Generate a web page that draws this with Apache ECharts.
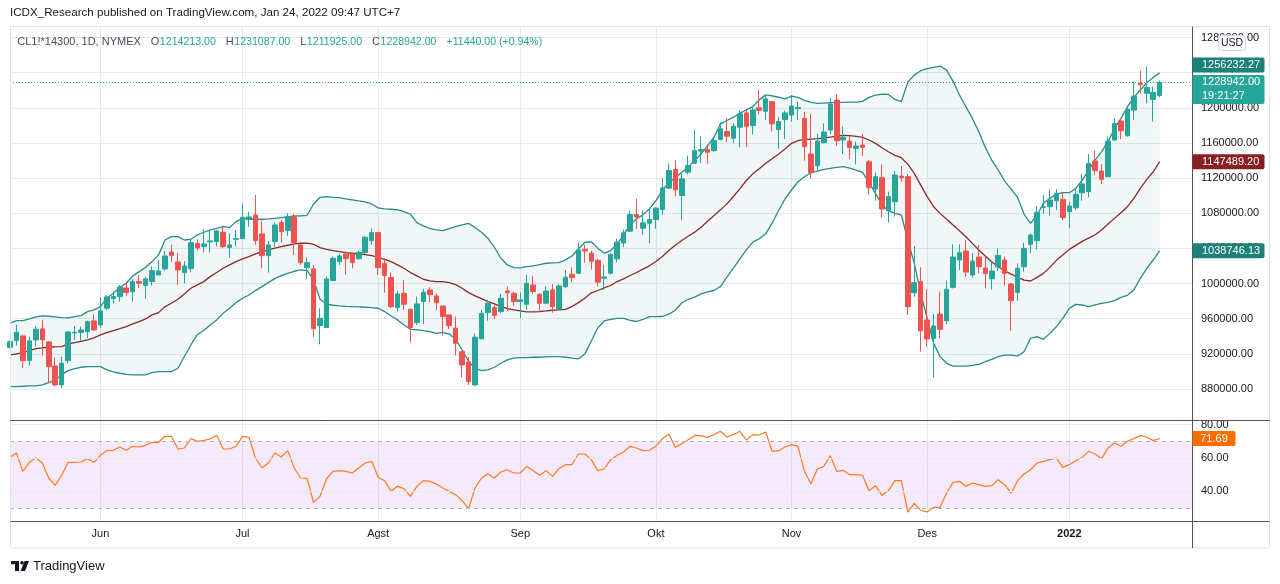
<!DOCTYPE html>
<html><head><meta charset="utf-8">
<script src="https://cdn.jsdelivr.net/npm/echarts@6/dist/echarts.min.js"></script>
<style>html,body{margin:0;padding:0;background:#fff;}#c{width:1280px;height:584px;}</style>
</head><body><div id="c"></div>
<script>
// ---------- data (prices in thousands) ----------
const titleText = 'ICDX_Research published on TradingView.com, Jan 24, 2022 09:47 UTC+7';
const symbolText = 'CL1!*14300, 1D, NYMEX';
const startDate = '2021-05-11';
const holidays = ['2021-05-31','2021-07-05','2021-09-06','2021-11-25','2021-12-24','2022-01-17'];
const blankBars = 5;
const monthNames = ['Jan','Feb','Mar','Apr','Mei','Jun','Jul','Agst','Sep','Okt','Nov','Des'];
const priceInterval = 40000;
const rsiLevels = [30, 70];
const rsiGridLevels = [40, 60, 80];
const countdown = '19:21:27';
const bbLabelValues = [1256232.27, 1147489.20, 1038746.13]; // upper, basis, lower

const openK = [927.5,935.1,940.4,912.3,935.8,948.4,933.6,906.2,884.6,912.3,
943.8,944.2,945.3,957.5,952.9,971.9,982.9,985.2,995,990.8,
1002.2,997.7,1002.2,1009.8,1016.6,1036,1024.6,1012.5,1017,1045.5,
1042.1,1047.4,1047.8,1058.4,1040.9,1050.4,1051.2,1073.2,1078.1,1056.5,
1031.8,1047.8,1069.4,1060.3,1076.2,1044,1018.2,1016.6,952.1,949.9,
1003.4,1025,1033.7,1033.7,1028.4,1035.2,1048.9,1058,1023.1,1006.8,
972.6,988.9,970.7,955.6,979.5,992.7,985.9,974.5,964.3,949.1,
922.5,910.8,884.6,937,966.9,972.6,968.1,991.6,988.9,979.5,
976.4,998.4,987.8,977.6,992.7,971.1,996.5,1010.6,1011.7,1039,
1034.6,1026.2,1006.1,1011.8,1028.1,1046.3,1059.6,1078.6,1063,1068.7,
1072.9,1084.3,1108.6,1129.8,1100.2,1126.8,1137,1150.7,1152.6,1151.4,
1164,1173.1,1165.5,1178,1194.3,1179.9,1200,1196.2,1207.2,1175.3,
1186.7,1191.8,1199,1188,1147.4,1134.1,1160.3,1174.7,1208.9,1163.4,
1162.2,1153.9,1157.7,1138.7,1107.6,1120.5,1082.9,1093.2,1122.4,1121.6,
989.6,1002.1,958.5,937.6,965.3,957.7,995.7,1026.8,1037,1009.7,
1030.2,1017.7,1005.5,1019.2,1026.8,999.5,990,1019.2,1044.6,1048.8,
1086.7,1087.5,1094.3,1095.8,1081.8,1086.3,1103.4,1104.6,1139.5,1128.1,
1121.6,1163.4,1185,1168.3,1197.5,1227.9,1216.5,1209.6,1214.213];

const closeK = [933.9,944.6,912.3,934.7,948,935.8,905.5,884.6,909.3,944.9,
944.6,947.2,956.7,947.2,968.8,984.8,985.2,996.2,989.7,1002.2,
1000.3,1005.3,1014.7,1014.4,1031.4,1031.8,1015.5,1020,1046.6,1040.5,
1045.1,1048.5,1059.9,1042.1,1044,1051.2,1075.4,1075.8,1048.9,1031.8,
1044,1066.7,1059.1,1076.2,1046.6,1023.8,1023.8,948.7,960.5,1005.3,
1028.8,1031.4,1028.4,1023.8,1035.6,1052.7,1058,1018.2,1009.1,973.8,
988.2,976.4,949.9,976.8,990.1,987.4,978.3,962.4,952.1,932,
907.4,888.4,938.9,966.2,977.6,963.5,983.3,989.7,979.5,981.4,
1000.3,990.8,977.6,991.6,973.8,997.3,1007.2,1006.8,1038.3,1037.1,
1025.5,1001.6,1007.6,1033.1,1047.1,1057.7,1078.6,1075.6,1069.1,1072.9,
1085.8,1108.9,1128.7,1106.7,1119.2,1134.4,1151.4,1152.6,1149.5,1162.8,
1176.1,1167.8,1179.1,1193.2,1179.1,1197.7,1197.3,1210.2,1181.8,1184.4,
1194.3,1202.1,1200.5,1155.8,1126.2,1162.2,1172.5,1204.3,1162.6,1166.4,
1155,1156.5,1155,1109.1,1121.6,1084.8,1098.9,1123.5,1120.5,973.7,
1001,946.3,936.9,951.7,947.9,993.4,1030.2,1035.1,1013.1,1025.6,
1019.2,1011.2,1014.3,1032.1,1011.6,980.5,1017.3,1040.1,1055.2,1081,
1087.5,1095.1,1102.7,1075.3,1088.2,1101.5,1113.3,1136.8,1128.5,1118.6,
1162.2,1182.3,1174,1198.3,1213.4,1226.3,1223.3,1217.502,1228.942];

const lowK = [926,929.4,903.6,906.6,928.2,918,886.5,882.7,880.8,909.3,
935.8,935.1,937.7,946.1,949.9,970,977.6,979.5,986.3,979.5,
994.6,982.5,997.7,1009.8,1014.4,1025,998.4,1000.3,1012.8,1037.5,
1035.2,1035.2,1042.1,1040.2,1029.5,1042.1,1050.4,1064.8,1044,1017.4,
1012.5,1042.1,1046.6,1054.2,1032.6,1021.2,1004.9,938.9,930.9,949.9,
1003.4,1021.2,1009.8,1017.4,1026.9,1033.7,1044,1009.8,989.7,971.9,
968.1,970,932.8,952.9,954,978.7,970,940.8,948.3,918,
893.3,884.6,883.5,937,957.8,959.4,966.2,968.8,974.9,960.5,
970,988.2,968.8,976.8,966.9,970,994.6,1001.5,1010.9,1023.8,
1016,996.6,992.8,1010.3,1024.3,1041.4,1058.5,1062.3,1055.4,1046,
1062.3,1078.2,1107.8,1099.1,1072.5,1124.1,1137,1137,1136.3,1149.5,
1162.8,1160.9,1159.8,1155.2,1155.2,1169.6,1192.4,1186.3,1173.1,1153.3,
1164.7,1184.2,1186.1,1139.8,1119.7,1129.2,1159.6,1170.2,1156.9,1147.4,
1141.7,1135.7,1145.2,1100.8,1094.3,1075.3,1069.3,1076.1,1115.9,964.2,
985,922.4,928.1,893.2,937.6,953.6,994.5,1015.4,1007.8,1006.7,
1011.6,994.5,993.4,1014.6,997.5,946.3,980.5,1013.5,1034.4,1038.9,
1079.9,1077.2,1083.7,1072.3,1062.8,1083.7,1094.3,1098.1,1123.5,1113.3,
1121.6,1162.2,1164.5,1167.2,1186.1,1216.5,1205.1,1184.2,1211.925];

const highK = [935,952.9,941.5,939.6,951,958.6,934.3,916.1,916.9,946.1,
951.8,951,957.8,965,984.4,986.7,990.8,998.4,1002.2,1004.9,
1009.8,1007.9,1019.3,1026.9,1037.1,1044,1035.2,1025.7,1049.6,1050.4,
1061.8,1061,1061,1065.6,1057.2,1061,1090.6,1081.9,1100.9,1071.7,
1048.5,1069.4,1072.4,1080,1079.2,1044,1029.9,1021.2,971.9,1007.9,
1030.7,1033.7,1036.4,1034.5,1037.5,1054.2,1062.9,1058,1028.8,1012.8,
991.6,1004.1,970.7,985.2,993.9,995.8,988.9,974.5,964.3,962.4,
923.3,916.9,943.4,970,981.4,976.4,988.2,996.5,990.8,989.7,
1009.8,1008.7,988.9,996.5,999.2,999.2,1015.5,1018.5,1046.6,1044,
1037.6,1028.1,1021.3,1034.6,1050.9,1061.5,1083.1,1096.4,1083.1,1086.2,
1086.9,1120.3,1137,1140.8,1126.8,1145.7,1175,1167.4,1158.3,1166.6,
1183.7,1188.2,1182.5,1197,1198.9,1200.8,1220.9,1214,1207.2,1189.4,
1197,1214.6,1207,1195.6,1193,1170.2,1182.3,1211.5,1215.7,1178.5,
1167.9,1161.5,1170.2,1140.6,1126.2,1135.7,1104.6,1128.1,1133.8,1124.7,
1042.7,1018.4,993.4,965.3,990.7,1003.3,1044.6,1044.6,1049.5,1035.1,
1043.8,1030.6,1024.9,1040.1,1030.6,1001,1023,1046.5,1057.1,1088.2,
1100.8,1107.2,1107.6,1103.4,1093.2,1108.3,1124.7,1147.4,1151.2,1136,
1167.2,1188,1186.9,1200.5,1230.1,1242.3,1246.8,1224.1,1231.087];

const bbUpperK = [954.8,957.8,957.8,959.7,962,963.1,962.8,962,961.2,960.9,
962.4,963.5,968.1,970,973.8,983.3,988.9,995.8,1000.3,1008.7,
1013.6,1018.5,1025,1032.6,1049.6,1053.4,1053.4,1049.6,1050.4,1055.3,
1058.4,1061,1062.9,1064.8,1063.7,1070.5,1074.3,1073.2,1073.2,1073.2,
1073.6,1074.3,1075.1,1075.8,1077,1077,1077.7,1090.6,1098.2,1099,
1098.2,1097.8,1096.3,1095.2,1094,1092.9,1090.6,1086.1,1084.9,1084.6,
1083.8,1081.9,1078.9,1069.4,1065.6,1062.9,1061,1060.3,1062.5,1064.8,
1066.7,1068.6,1063.7,1058.4,1051.5,1041.3,1028.8,1021.2,1018.2,1017.8,
1019.3,1020.1,1021.6,1023.1,1023.5,1023.8,1026.9,1031.4,1039.4,1047,
1047.5,1040.3,1034.6,1037.6,1044.8,1055.4,1066.8,1073.7,1078.2,1085,
1094.5,1105.9,1115.4,1120.3,1126.8,1132.5,1140.1,1147.6,1157.1,1166.6,
1181.8,1185.6,1189.4,1193.9,1197.7,1201.5,1209.1,1214.8,1213.7,1212.1,
1210.2,1213.4,1211.9,1208.5,1206.2,1205.1,1205.5,1205.9,1206.2,1206.2,
1206.6,1206.6,1207.4,1211.9,1214.6,1215.7,1215.3,1209.6,1207,1229.4,
1237.3,1242.3,1244.6,1246.1,1247.6,1243,1230.5,1214.6,1201.3,1188,
1172.8,1155,1140.6,1129.2,1116.7,1107.6,1098.1,1079.1,1068.5,1078,
1091.3,1097,1101.9,1103.4,1103.4,1108.3,1117.8,1129.2,1140.6,1150.1,
1161.5,1176.6,1188,1201.3,1211.9,1220.3,1228.6,1234.7,1240];

const bbBasisK = [918.8,919.9,921.4,923.7,926,926.7,927.5,927.9,928.2,931.3,
932.8,934.3,935.8,938.1,941.5,944.2,946.5,948.7,951,954,
956.7,959.7,964.3,966.9,973.8,977.6,982.1,988.2,994.6,998.5,
1002.2,1007.9,1012.5,1017.4,1021.2,1025,1028,1030.7,1033.7,1036.4,
1038.3,1040.2,1042.1,1043.6,1045.1,1045.9,1045.9,1044.7,1040.9,1039,
1037.5,1036.4,1035.2,1034.5,1033.7,1033,1031.8,1029.9,1027.6,1025,
1021.2,1017.4,1012.5,1008.7,1004.9,1003,1002.2,1002.2,1001.1,998.8,
994.6,989.7,985.9,982.9,979.5,976.8,973.8,971.5,970,968.8,
967.7,967.7,968.1,968.8,969.6,970,970.7,973.8,978.3,983.3,
989.4,992.1,995.1,997.8,1002.3,1005.4,1009.2,1012.6,1016.4,1020.2,
1025.1,1030.8,1037.6,1043.7,1049,1053.9,1058.5,1064.2,1071,1077.5,
1083.9,1090.7,1099.1,1107.8,1117.3,1124.9,1130.6,1137,1142,1147.6,
1153.3,1159.6,1162.6,1164.1,1164.5,1164.9,1165.6,1166.8,1167.9,1168.7,
1168.3,1167.5,1166.4,1163.4,1159.6,1154.6,1150.1,1145.9,1143.3,1136,
1125.4,1112.1,1098.9,1087.5,1079.9,1073.1,1066.6,1060.2,1053.3,1045.7,
1038.2,1031.3,1024.5,1019.2,1014.6,1010.8,1007,1004,1002.9,1007,
1011.6,1018.4,1026.4,1032.5,1038.9,1043.5,1048,1051.8,1055.6,1060.9,
1067.8,1074.2,1080.7,1087.5,1097,1108.3,1118.6,1127.3,1138.7];

const bbLowerK = [882.7,882.7,883.1,883.5,883.5,884.6,887.3,890.3,896,900.9,
903.2,904.7,905.5,905.5,905.5,901.7,899.4,897.9,896.7,896,
896,896,898.6,899.8,899.8,899.8,903.6,916.9,930.1,941.8,
946.5,952.9,958.6,966.2,971.9,978.3,983.3,987,992,996.5,
1001.1,1005.6,1009.1,1011.7,1014,1015.5,1014.7,1004.1,982.1,976.8,
975.3,974.5,974.1,973.8,973.4,973,972.6,971.9,968.1,963.1,
958.6,952.9,947.9,947.2,946.5,945.3,943.4,944.2,942.7,936.6,
924.4,911.2,903.6,900.9,901.7,904.7,909.3,913.1,915,915.7,
915.7,916.1,916.1,916.5,916.9,916.9,916.1,915,914.2,919.9,
934.6,949.4,957.4,959.1,960.3,960.3,958,956.8,959.1,962.3,
962.3,962.5,965.1,969.6,977.9,982.1,984.5,988.3,990.6,992.1,
996.6,1007.3,1017.5,1028.1,1038.4,1047.1,1050.9,1056.6,1068.7,1083.1,
1096.4,1106.5,1115.9,1121.6,1126.2,1128.1,1130,1131.1,1132.3,1133,
1131.5,1129.2,1126.6,1114.8,1102.7,1089.4,1083,1079.9,1078,1049.5,
1023,988.8,960.4,931.9,916.8,909.2,906.1,906.1,906.1,906.9,
908,911,913.7,916.7,918.6,918.6,917.5,922.4,937.6,939.5,
936.5,943.3,950.9,960.4,971.8,976.3,975.6,973.7,975.6,977.5,
978.6,980.5,984.3,986.6,992.6,1005.9,1017.3,1026.8,1037.4];

const rsi = [60.4,63,52,57.4,60,57,48,43.6,49.6,57.4,
57.4,57.6,59.6,57.4,61.6,64.4,64.6,66.6,64.6,67,
66.6,67.6,69.4,69.4,73,73,65.4,66,71.6,70,
70.6,71.4,73.6,65.4,65.4,67,73,72.4,60,54,
57,63,60.6,64.4,54,48,47.8,33.4,37,47.4,
52,52.4,52,51,54,57,58,48.4,46.4,40,
43,41.6,37,43,46.4,46,44.4,42,40,38,
34.4,29.6,42,48,50.4,48,51.6,53,51,51,
55,52.4,49.6,52.4,49,53.6,56,56,62.4,62.4,
59,52.4,53.4,59,61.6,63.6,67,66,64.4,64.6,
67,71.6,74.4,66.4,68.6,71,73.4,73.4,72.4,74,
76,72.6,74,76,70.8,74,73.8,75.6,64,64.4,
66.6,68,67,52,44.6,53.4,55,61.4,52,52.6,
50,50,49.6,40.4,43.4,37.6,40.4,46.4,46.4,27.6,
32.8,28.6,27.6,30.4,30.4,39,45.4,46,43,45,
44,43,43.4,47,44,39,46.4,50.4,53,57,
58,59,60,54.4,56,58.4,60.4,64,62.4,59.6,
66,69,67,70,71.6,73.4,72.6,70.4,71.69];

// ---------- build ----------
const K = v => v * 1000;
const N = openK.length;
function tradingDays(start, count, hol) {
  const out = []; const d = new Date(start + 'T00:00:00Z');
  while (out.length < count) {
    const dow = d.getUTCDay(); const s = d.toISOString().slice(0, 10);
    if (dow !== 0 && dow !== 6 && hol.indexOf(s) < 0) out.push(s);
    d.setUTCDate(d.getUTCDate() + 1);
  }
  return out;
}
const dates = tradingDays(startDate, N + blankBars, holidays);
const monthStart = dates.map((d, i) => i > 0 && d.slice(0, 7) !== dates[i - 1].slice(0, 7));
const FONT = '"Liberation Sans", Arial, sans-serif';
const UP = '#26a69a', DOWN = '#ef5350', BAND = '#2b8a8a', BASIS = '#8b2a2a', RSIC = '#ff7a1f';
const GRIDC = '#e6e9ef';

const candleData = openK.map((o, i) => [K(o), K(closeK[i]), K(lowK[i]), K(highK[i])]);

const chart = echarts.init(document.getElementById('c'));
chart.setOption({
  animation: false,
  backgroundColor: '#ffffff',
  textStyle: { fontFamily: FONT },
  grid: [
    { left: 10, width: 1182, top: 26, height: 398.1 },
    { left: 10, width: 1182, top: 420.3, height: 104.4 }
  ],
  xAxis: [
    { type: 'category', gridIndex: 0, data: dates, boundaryGap: false,
      axisLine: { show: false }, axisTick: { show: false }, axisLabel: { show: false },
      splitLine: { show: true, interval: (i) => monthStart[i], lineStyle: { color: GRIDC, width: 1 } } },
    { type: 'category', gridIndex: 1, data: dates, boundaryGap: false,
      axisLine: { show: false }, axisTick: { show: false },
      axisLabel: { show: true, interval: (i) => monthStart[i], margin: 4, color: '#131722', fontSize: 11, fontFamily: FONT,
        formatter: (v) => { const m = +v.slice(5, 7) - 1; return m === 0 ? '{y|' + v.slice(0, 4) + '}' : monthNames[m]; },
        rich: { y: { fontWeight: 'bold', fontSize: 11, color: '#131722', fontFamily: FONT } } },
      splitLine: { show: true, interval: (i) => monthStart[i], lineStyle: { color: GRIDC, width: 1 } } }
  ],
  yAxis: [
    { type: 'value', gridIndex: 0, position: 'right', min: 840000, max: 1293200, interval: priceInterval,
      axisLine: { show: false }, axisTick: { show: false },
      axisLabel: { formatter: v => v.toFixed(2), showMinLabel: false, showMaxLabel: false, margin: 9, color: '#131722', fontSize: 11, fontFamily: FONT },
      splitLine: { lineStyle: { color: GRIDC } } },
    { type: 'value', gridIndex: 1, position: 'right', min: 20, max: 82.6, interval: 20,
      axisLine: { show: false }, axisTick: { show: false },
      axisLabel: { formatter: v => v.toFixed(2), showMinLabel: false, showMaxLabel: false, margin: 9, color: '#131722', fontSize: 11, fontFamily: FONT },
      splitLine: { show: false } }
  ],
  series: [
    { name: 'bbBase', type: 'line', xAxisIndex: 0, yAxisIndex: 0, data: bbLowerK.map(K), stack: 'bb', symbol: 'none',
      lineStyle: { opacity: 0 }, silent: true, z: 1 },
    { name: 'bbFill', type: 'line', xAxisIndex: 0, yAxisIndex: 0, data: bbUpperK.map((u, i) => K(u - bbLowerK[i])), stack: 'bb', symbol: 'none',
      lineStyle: { opacity: 0 }, areaStyle: { color: 'rgba(20,125,125,0.06)', opacity: 1 }, silent: true, z: 1 },
    { name: 'upper', type: 'line', xAxisIndex: 0, yAxisIndex: 0, data: bbUpperK.map(K), symbol: 'none',
      lineStyle: { color: BAND, width: 1.3 }, silent: true, z: 2 },
    { name: 'lower', type: 'line', xAxisIndex: 0, yAxisIndex: 0, data: bbLowerK.map(K), symbol: 'none',
      lineStyle: { color: BAND, width: 1.3 }, silent: true, z: 2 },
    { name: 'basis', type: 'line', xAxisIndex: 0, yAxisIndex: 0, data: bbBasisK.map(K), symbol: 'none',
      lineStyle: { color: BASIS, width: 1.3 }, silent: true, z: 2 },
    { name: 'price', type: 'candlestick', xAxisIndex: 0, yAxisIndex: 0, data: candleData, barWidth: '78%', z: 3,
      itemStyle: { color: UP, color0: DOWN, borderColor: UP, borderColor0: DOWN, borderWidth: 1 },
      markLine: { silent: true, symbol: ['none', 'none'], label: { show: false },
        lineStyle: { color: UP, type: [1, 2], width: 1 },
        data: [{ yAxis: K(closeK[N - 1]) }] } },
    { name: 'RSI', type: 'line', xAxisIndex: 1, yAxisIndex: 1, data: rsi, symbol: 'none',
      lineStyle: { color: RSIC, width: 1.2 }, silent: true, z: 3,
      markArea: { silent: true, itemStyle: { color: 'rgba(155,60,230,0.11)' },
        data: [[{ yAxis: rsiLevels[0] }, { yAxis: rsiLevels[1] }]] },
      markLine: { silent: true, symbol: ['none', 'none'], label: { show: false },
        data: rsiLevels.map(v => ({ yAxis: v, lineStyle: { color: '#b2b5be', type: [4, 4], width: 1 } }))
          .concat(rsiGridLevels.map(v => ({ yAxis: v, lineStyle: { color: GRIDC, type: 'solid', width: 1 } }))) } }
  ]
});

// ---------- overlays (labels positioned through the axes) ----------
const yP = v => chart.convertToPixel({ yAxisIndex: 0 }, v);
const yR = v => chart.convertToPixel({ yAxisIndex: 1 }, v);
const AX = 1192.5, BOXW = 72;
const lastClose = K(closeK[N - 1]), prevClose = K(closeK[N - 2]);
const chg = lastClose - prevClose, pct = chg / prevClose * 100;

const g = [];
// frame
g.push({ type: 'rect', shape: { x: 10.5, y: 522, width: 1181, height: 4 }, style: { fill: '#fff' }, z: 50 });
g.push({ type: 'rect', shape: { x: 10.5, y: 26.5, width: 1259, height: 521.5 }, style: { fill: 'none', stroke: '#e0e3eb', lineWidth: 1 }, z: 60 });
g.push({ type: 'line', shape: { x1: 10.5, y1: 420.5, x2: 1269.5, y2: 420.5 }, style: { stroke: '#50535e', lineWidth: 1 }, z: 61 });
g.push({ type: 'line', shape: { x1: 10.5, y1: 521.5, x2: 1269.5, y2: 521.5 }, style: { stroke: '#50535e', lineWidth: 1 }, z: 61 });
g.push({ type: 'line', shape: { x1: AX, y1: 26.5, x2: AX, y2: 548 }, style: { stroke: '#50535e', lineWidth: 1 }, z: 61 });

// header
g.push({ type: 'text', x: 10, y: 13, z: 70, style: { text: titleText, font: '11.6px ' + FONT, fill: '#131722', verticalAlign: 'middle' } });
const VF = '10.6px ' + FONT, KF = '11px ' + FONT;
g.push({ type: 'text', x: 17.3, y: 42, z: 70, style: {
  text: '{s|' + symbolText + '}{k|O}{v|' + K(openK[N - 1]).toFixed(2) + '}{k|H}{v|' + K(highK[N - 1]).toFixed(2) +
        '}{k|L}{v|' + K(lowK[N - 1]).toFixed(2) + '}{k|C}{v|' + lastClose.toFixed(2) + '}{c|' + (chg >= 0 ? '+' : '') + chg.toFixed(2) +
        ' (' + (pct >= 0 ? '+' : '') + pct.toFixed(2) + '%)}',
  verticalAlign: 'middle', font: KF,
  rich: {
    s: { fill: '#4a4e59', font: KF, padding: [0, 0, 0, 0] },
    k: { fill: '#4a4e59', font: KF, padding: [0, 0.5, 0, 10] },
    v: { fill: UP, font: VF },
    c: { fill: UP, font: VF, padding: [0, 0, 0, 10] }
  } } });

// price label boxes
function box(yc, h, color, lines) {
  g.push({ type: 'rect', z: 80, shape: { x: AX, y: yc - h / 2, width: BOXW, height: h, r: [0, 2, 2, 0] }, style: { fill: color } });
  lines.forEach((t, i) => g.push({ type: 'text', z: 81, x: AX + 9.5, y: yc - h / 2 + 7.5 + i * 14,
    style: { text: t, font: '11px ' + FONT, fill: '#ffffff', verticalAlign: 'middle' } }));
}
const yClose = yP(lastClose);
const priceTop = yClose - 7.5;
const yUp = Math.min(yP(K(bbUpperK[N - 1])), priceTop - 2.5 - 7.5);
// axis labels hidden where the value boxes crowd together
g.push({ type: 'rect', z: 79, shape: { x: AX + 0.5, y: yUp + 7.5, width: 76, height: priceTop - yUp - 7.5 }, style: { fill: '#ffffff' } });
box(priceTop + 14.5, 29, '#26a69a', [lastClose.toFixed(2), countdown]);
box(yUp, 15, '#1d8079', [bbLabelValues[0].toFixed(2)]);
box(yP(K(bbBasisK[N - 1])), 15, '#891f1f', [bbLabelValues[1].toFixed(2)]);
box(yP(K(bbLowerK[N - 1])), 15, '#1d8079', [bbLabelValues[2].toFixed(2)]);
// RSI label
const yr = yR(rsi[N - 1]);
g.push({ type: 'rect', z: 80, shape: { x: AX, y: yr - 7.5, width: 43, height: 15, r: [0, 2, 2, 0] }, style: { fill: '#ff6d00' } });
g.push({ type: 'text', z: 81, x: AX + 21.5, y: yr, style: { text: rsi[N - 1].toFixed(2), font: '11px ' + FONT, fill: '#fff', align: 'center', verticalAlign: 'middle' } });

// USD button
g.push({ type: 'rect', z: 82, shape: { x: 1218.5, y: 35.5, width: 27, height: 15, r: 3 }, style: { fill: '#fff', stroke: '#d1d4dc', lineWidth: 1 } });
g.push({ type: 'text', z: 83, x: 1232, y: 43, style: { text: 'USD', font: '10.5px ' + FONT, fill: '#131722', align: 'center', verticalAlign: 'middle' } });

// footer logo + text
g.push({ type: 'rect', z: 70, shape: { x: 11, y: 561, width: 8, height: 3.2 }, style: { fill: '#131722' } });
g.push({ type: 'rect', z: 70, shape: { x: 15, y: 561, width: 4, height: 10 }, style: { fill: '#131722' } });
g.push({ type: 'circle', z: 70, shape: { cx: 22, cy: 562.8, r: 1.8 }, style: { fill: '#131722' } });
g.push({ type: 'polygon', z: 70, shape: { points: [[24.5, 561], [29, 561], [25, 571], [20.5, 571]] }, style: { fill: '#131722' } });
g.push({ type: 'text', z: 70, x: 33, y: 566, style: { text: 'TradingView', font: '13px ' + FONT, fill: '#131722', verticalAlign: 'middle' } });

chart.setOption({ graphic: g });
</script></body></html>
